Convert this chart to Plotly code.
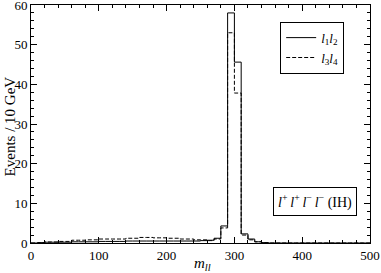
import plotly.graph_objects as go

# bin edges (GeV), 10 GeV bins
bin_lo = list(range(0, 500, 10))
# l1 l2 (solid)
l1l2 = [0.0, 0.1, 0.2, 0.2, 0.2, 0.2, 0.3, 0.3, 0.3, 0.3,
        0.4, 0.4, 0.4, 0.4, 0.5, 0.5, 0.5, 0.5, 0.5, 0.5,
        0.5, 0.5, 0.5, 0.5, 0.5, 0.6, 0.7, 1.2, 4.3, 58.0,
        45.6, 2.3, 1.0, 0.3, 0.1, 0.0, 0.0, 0.0, 0.0, 0.0,
        0.0, 0.0, 0.0, 0.0, 0.0, 0.0, 0.0, 0.0, 0.0, 0.0]
# l3 l4 (dashed)
l3l4 = [0.0, 0.1, 0.25, 0.25, 0.4, 0.4, 0.7, 0.7, 0.8, 0.8,
        1.0, 1.0, 1.0, 1.0, 1.2, 1.2, 1.4, 1.4, 1.3, 1.3,
        1.2, 1.2, 1.0, 1.0, 0.8, 0.8, 0.6, 1.0, 3.8, 53.0,
        37.8, 2.0, 0.8, 0.3, 0.1, 0.0, 0.0, 0.0, 0.0, 0.0,
        0.0, 0.0, 0.0, 0.0, 0.0, 0.0, 0.0, 0.0, 0.0, 0.0]

x_ticks = [0, 100, 200, 300, 400, 500]
y_ticks = [0, 10, 20, 30, 40, 50, 60]

xs = bin_lo + [500]
FONT = "Liberation Serif"

fig = go.Figure()
fig.add_trace(go.Scatter(x=xs, y=l1l2 + [l1l2[-1]], mode="lines", line_shape="hv",
                         line=dict(color="black", width=1),
                         name="<i>l</i><sub>1</sub><i>l</i><sub>2</sub>"))
fig.add_trace(go.Scatter(x=xs, y=l3l4 + [l3l4[-1]], mode="lines", line_shape="hv",
                         line=dict(color="black", width=1, dash="4px,2px"),
                         name="<i>l</i><sub>3</sub><i>l</i><sub>4</sub>"))

axis_common = dict(showline=True, linecolor="black", linewidth=1, mirror="allticks",
                   ticks="inside", ticklen=6, tickcolor="black", showgrid=False,
                   zeroline=False, automargin=False, ticklabeloverflow="allow",
                   tickfont=dict(family=FONT, size=13, color="black"))

fig.update_xaxes(range=[0, 500], tickvals=x_ticks, ticktext=[str(v) for v in x_ticks],
                 minor=dict(dtick=20, tick0=0, ticks="inside", ticklen=3, tickcolor="black"),
                 ticklabelstandoff=0,
                 **axis_common)
fig.update_yaxes(range=[0, 60], tickvals=y_ticks, ticktext=[str(v) for v in y_ticks],
                 minor=dict(dtick=2, tick0=0, ticks="inside", ticklen=3, tickcolor="black"),
                 ticklabelstandoff=0,
                 **axis_common)

# axis titles
fig.add_annotation(x=0.507, y=0, xref="paper", yref="paper", yshift=-10,
                   text="<i>m</i><sub><i>ll</i></sub>", showarrow=False,
                   xanchor="center", yanchor="top",
                   font=dict(family=FONT, size=15, color="black"))
fig.add_annotation(x=-0.0914, y=0.49, xref="paper", yref="paper",
                   text="Events / 10 GeV", showarrow=False, textangle=-90,
                   xanchor="left", yanchor="middle",
                   font=dict(family=FONT, size=15, color="black"))

TS = "\u2009"
fig.add_annotation(x=0.838, y=0.176, xref="paper", yref="paper",
                   text=("<i>l</i><sup>+</sup>" + TS + "<i>l</i><sup>+</sup>" + TS +
                         "<i>l</i><sup>−</sup>" + TS + "<i>l</i><sup>−</sup> (IH)"),
                   showarrow=False, font=dict(family=FONT, size=14, color="black"),
                   xanchor="center", yanchor="middle",
                   bordercolor="black", borderwidth=1, borderpad=4, bgcolor="white")

fig.update_layout(
    width=381, height=273,
    margin=dict(l=31, r=11, t=5, b=30, autoexpand=False),
    paper_bgcolor="white", plot_bgcolor="white",
    legend=dict(x=0.735, y=0.93, xanchor="left", yanchor="top",
                bordercolor="black", borderwidth=1, bgcolor="white",
                font=dict(family=FONT, size=13, color="black"),
                itemwidth=30, tracegroupgap=0),
    showlegend=True,
)

fig.write_html("out.html", config={"displayModeBar": False},
               post_script="document.body.style.margin='0';")
